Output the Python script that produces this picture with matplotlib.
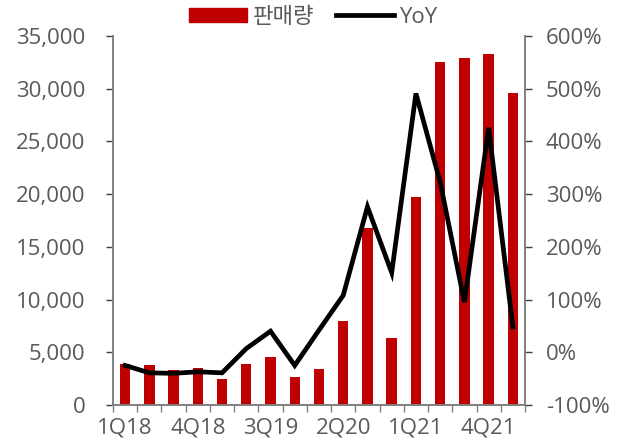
import matplotlib
matplotlib.use("Agg")
import matplotlib.pyplot as plt
from matplotlib.patches import Patch
from matplotlib.lines import Line2D
from matplotlib.ticker import FuncFormatter, MultipleLocator

plt.rcParams['font.family'] = ['Open Sans', 'Noto Sans CJK KR', 'DejaVu Sans']

quarters = ["1Q18", "2Q18", "3Q18", "4Q18", "1Q19", "2Q19", "3Q19", "4Q19",
            "1Q20", "2Q20", "3Q20", "4Q20", "1Q21", "2Q21", "3Q21", "4Q21", "1Q22"]
sales = [3900, 3800, 3300, 3500, 2450, 3900, 4550, 2650,
         3450, 7950, 16750, 6400, 19750, 32500, 32900, 33250, 29550]
yoy = [-25, -39, -40, -37, -39, 7, 40, -25,
       42, 108, 276, 151, 491, 323, 95, 426, 48]

GRAY = "#595959"
SPINE = "#808080"
RED = "#C00000"
FS = 16

fig = plt.figure(figsize=(6.18, 4.43), dpi=100)
ax = fig.add_axes([0.1828, 0.0858, 0.6667, 0.8329])
ax2 = ax.twinx()

x = list(range(len(quarters)))
ax.bar(x, sales, width=0.43, color=RED, zorder=2)
ax2.plot(x, yoy, color="black", linewidth=3.4, solid_joinstyle="miter", zorder=3)

ax.set_xlim(-0.5, len(quarters) - 0.5)
ax.set_ylim(0, 35000)
ax2.set_ylim(-100, 600)

ax.yaxis.set_major_locator(MultipleLocator(5000))
ax.yaxis.set_major_formatter(FuncFormatter(lambda v, p: f"{int(v):,}"))
ax2.yaxis.set_major_locator(MultipleLocator(100))
ax2.yaxis.set_major_formatter(FuncFormatter(lambda v, p: f"{int(v)}%"))

ax.set_xticks(x[::3])
ax.set_xticklabels(quarters[::3])
ax.set_xticks([i - 0.5 for i in range(len(quarters) + 1)], minor=True)
ax.tick_params(axis="x", which="major", length=0, pad=9, labelsize=FS, labelcolor=GRAY)
ax.tick_params(axis="x", which="minor", length=5, color=SPINE, width=1)
ax.tick_params(axis="y", length=5, color="#404040", width=1, labelsize=FS, labelcolor=GRAY, pad=15)
ax2.tick_params(axis="y", length=5, color="#404040", width=1, labelsize=FS, labelcolor=GRAY, pad=10)

for a in (ax, ax2):
    a.spines["top"].set_visible(False)
    for s in ("left", "right", "bottom"):
        a.spines[s].set_color(SPINE)
        a.spines[s].set_linewidth(1.2)

handles = [Patch(facecolor=RED, edgecolor=RED),
           Line2D([0], [0], color="black", linewidth=3.4)]
fig.legend(handles, ["판매량", "YoY"], loc="upper center", bbox_to_anchor=(0.507, 1.03),
           ncol=2, frameon=False, fontsize=FS, handlelength=2.6, handleheight=0.6,
           columnspacing=1.0, handletextpad=0.25, labelcolor=GRAY)

fig.savefig("out.png", dpi=100)
